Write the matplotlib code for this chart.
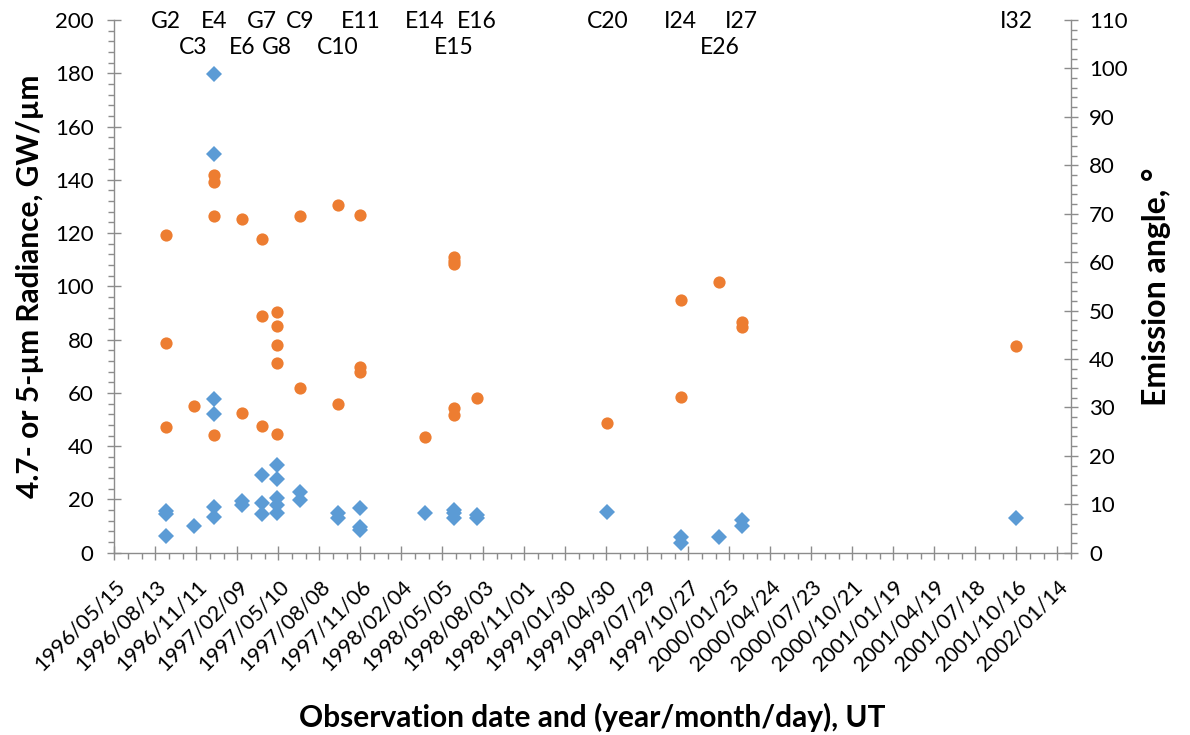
import numpy as np
import matplotlib
matplotlib.use('Agg')
import matplotlib.pyplot as plt
import matplotlib.dates as mdates
from matplotlib.ticker import FixedLocator, MultipleLocator, NullFormatter
import datetime as dt

# ---------------- data ----------------
orbit_names = ["G2", "C3", "E4", "E6", "G7", "G8", "C9", "C10", "E11",
               "E14", "E15", "E16", "C20", "I24", "E26", "I27", "I32"]
orbit_dates = ["1996-09-06", "1996-11-05", "1996-12-19", "1997-02-19", "1997-04-04",
               "1997-05-06", "1997-06-26", "1997-09-18", "1997-11-06", "1998-03-28",
               "1998-05-30", "1998-07-19", "1999-05-02", "1999-10-10", "2000-01-03",
               "2000-02-21", "2001-10-15"]
orbit_rows = [0, 1, 0, 1, 0, 1, 0, 1, 0, 0, 1, 0, 0, 0, 1, 0, 0]

# 4.7- or 5-um radiance (GW/um), left axis
rad_dates = ["1996-09-06", "1996-09-06", "1996-09-06",
             "1996-11-05",
             "1996-12-19", "1996-12-19", "1996-12-19", "1996-12-19", "1996-12-19", "1996-12-19",
             "1997-02-19", "1997-02-19",
             "1997-04-04", "1997-04-04", "1997-04-04",
             "1997-05-06", "1997-05-06", "1997-05-06", "1997-05-06", "1997-05-06",
             "1997-06-26", "1997-06-26",
             "1997-09-18", "1997-09-18",
             "1997-11-06", "1997-11-06", "1997-11-06",
             "1998-03-28",
             "1998-05-30", "1998-05-30", "1998-05-30",
             "1998-07-19", "1998-07-19",
             "1999-05-02",
             "1999-10-10", "1999-10-10",
             "2000-01-03",
             "2000-02-21", "2000-02-21",
             "2001-10-15"]
rad_values = [15.8, 14.6, 6.3,
              10.0,
              179.6, 149.8, 57.7, 52.1, 17.3, 13.3,
              19.6, 18.0,
              29.2, 18.5, 14.4,
              32.9, 27.7, 20.4, 17.9, 14.8,
              22.9, 19.8,
              15.0, 12.9,
              16.7, 9.8, 8.5,
              15.0,
              16.0, 14.8, 12.9,
              14.2, 12.9,
              15.2,
              6.0, 3.5,
              6.0,
              12.3, 10.0,
              13.0]

# Emission angle (deg), right axis
ang_dates = ["1996-09-06", "1996-09-06", "1996-09-06",
             "1996-11-05",
             "1996-12-19", "1996-12-19", "1996-12-19", "1996-12-19",
             "1997-02-19", "1997-02-19",
             "1997-04-04", "1997-04-04", "1997-04-04",
             "1997-05-06", "1997-05-06", "1997-05-06", "1997-05-06", "1997-05-06",
             "1997-06-26", "1997-06-26",
             "1997-09-18", "1997-09-18",
             "1997-11-06", "1997-11-06", "1997-11-06",
             "1998-03-28",
             "1998-05-30", "1998-05-30", "1998-05-30", "1998-05-30", "1998-05-30",
             "1998-07-19",
             "1999-05-02",
             "1999-10-10", "1999-10-10",
             "2000-01-03",
             "2000-02-21", "2000-02-21",
             "2001-10-15"]
ang_values = [65.7, 43.3, 25.9,
              30.3,
              78.0, 76.6, 69.5, 24.4,
              68.9, 28.8,
              64.8, 48.9, 26.2,
              49.7, 46.9, 42.8, 39.1, 24.6,
              69.5, 34.1,
              71.8, 30.8,
              69.7, 38.4, 37.4,
              23.9,
              61.0, 60.3, 59.7, 29.8, 28.4,
              31.9,
              26.7,
              52.2, 32.1,
              55.9,
              47.7, 46.6,
              42.7]

x_start = "1996-05-15"
x_end = "2002-02-13"
major_step_days = 90
minor_step_days = 30

# ---------------- style ----------------
FONT = ['Lato', 'DejaVu Sans']
plt.rcParams['font.family'] = FONT
BLUE = '#5B9BD5'
ORANGE = '#ED7D31'
AXC = '#8C8C8C'


def to_dt(s):
    return dt.datetime.strptime(s, "%Y-%m-%d")


fig = plt.figure(figsize=(11.9, 7.35), dpi=100)
ax = fig.add_axes([0.0961, 0.248, 0.9 - 0.0961, 0.9728 - 0.248])
ax2 = ax.twinx()

ax.plot([to_dt(d) for d in rad_dates], rad_values, linestyle='none', marker='D',
        markersize=8.4, color=BLUE, markeredgewidth=0, zorder=3)
ax2.plot([to_dt(d) for d in ang_dates], ang_values, linestyle='none', marker='o',
         markersize=8.8, color=ORANGE, markeredgewidth=0, zorder=3)

x0 = to_dt(x_start)
x1 = to_dt(x_end)
ax.set_xlim(x0, x1)
ax.set_ylim(0, 200)
ax2.set_ylim(0, 110)

majors = []
d = x0
while d <= x1:
    majors.append(d)
    d += dt.timedelta(days=major_step_days)
minors = []
d = x0
while d <= x1:
    minors.append(d)
    d += dt.timedelta(days=minor_step_days)
minors = [m for m in minors if m not in majors]

ax.xaxis.set_major_locator(FixedLocator(mdates.date2num(majors)))
ax.xaxis.set_minor_locator(FixedLocator(mdates.date2num(minors)))
ax.xaxis.set_major_formatter(mdates.DateFormatter("%Y/%m/%d"))
ax.xaxis.set_minor_formatter(NullFormatter())

ax.yaxis.set_major_locator(MultipleLocator(20))
ax.yaxis.set_minor_locator(MultipleLocator(4))
ax2.yaxis.set_major_locator(MultipleLocator(10))
ax2.yaxis.set_minor_locator(MultipleLocator(2))

for a in (ax, ax2):
    for s in a.spines.values():
        s.set_color(AXC)
        s.set_linewidth(1.0)
    a.spines['top'].set_visible(False)
    a.tick_params(which='major', direction='inout', length=10, width=1.0, color=AXC,
                  labelsize=16, labelcolor='black')
    a.tick_params(which='minor', direction='out', length=4.5, width=1.0, color=AXC)
ax.spines['right'].set_visible(False)
ax2.spines['left'].set_visible(False)
ax2.spines['bottom'].set_visible(False)

ax.tick_params(axis='x', which='major', pad=12, labelsize=15.5)
ax.tick_params(axis='y', which='major', pad=10)
ax2.tick_params(axis='y', which='major', pad=8)
for lbl in ax.get_xticklabels():
    lbl.set_rotation(45)
    lbl.set_ha('right')
    lbl.set_va('top')
    lbl.set_rotation_mode('anchor')

ax.set_ylabel("4.7- or 5-µm Radiance, GW/µm", fontsize=21.5, fontweight='bold', labelpad=8)
ax2.set_ylabel("Emission angle, °", fontsize=23, fontweight='bold', labelpad=10)
ax.set_xlabel("Observation date and (year/month/day), UT", fontsize=21.5,
              fontweight='bold', labelpad=20)

row_y = [0.998, 0.948]
trans = matplotlib.transforms.blended_transform_factory(ax.transData, ax.transAxes)
for name, dstr, row in zip(orbit_names, orbit_dates, orbit_rows):
    ax.text(to_dt(dstr), row_y[row], name, transform=trans, ha='center', va='center',
            fontsize=16.5, color='black', clip_on=False)

fig.savefig("out.png", dpi=100)
